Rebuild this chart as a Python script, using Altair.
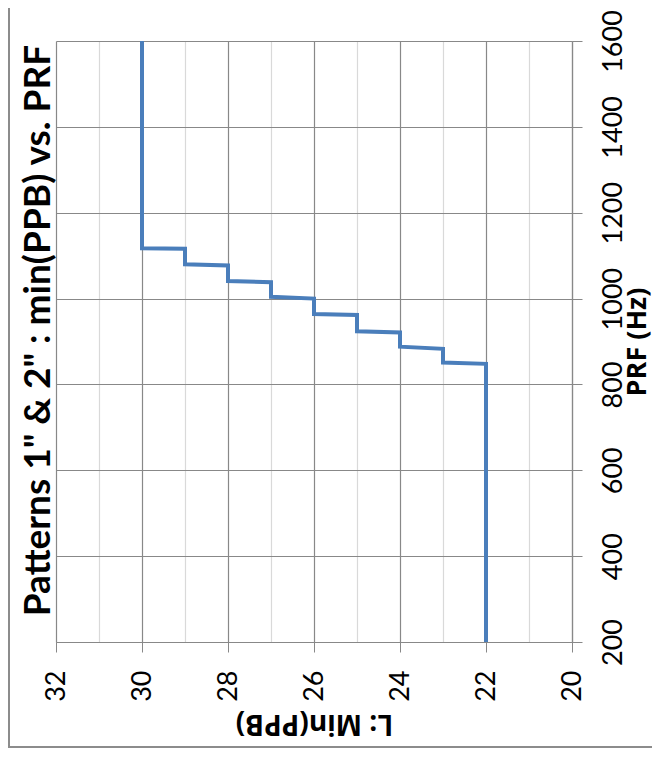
import altair as alt
import pandas as pd

# Step data read from the (rotated) reference picture
prf_hz = [200, 848, 851, 883, 888, 921, 924, 962, 964, 1000, 1004, 1038, 1041, 1077, 1080, 1116, 1117, 1600]
min_ppb = [22, 22, 23, 23, 24, 24, 25, 25, 26, 26, 27, 27, 28, 28, 29, 29, 30, 30]
ppb_ticks = list(range(20, 33))
prf_ticks = list(range(200, 1601, 200))
chart_title = 'Patterns 1" & 2" : min(PPB) vs. PRF'
x_title = "L: Min(PPB)"
y_title = "PRF (Hz)"

df = pd.DataFrame({"PRF": prf_hz, "PPB": min_ppb})

MAJOR = "#888888"
MINOR = "#d9d9d9"
FONT = "Lato"
TFONT = "Open Sans"
EVEN = "datum.value % 2 === 0"

line = alt.Chart(df).mark_line(color="#4a7ebb", strokeWidth=4).encode(
    x=alt.X(
        "PPB:Q",
        scale=alt.Scale(domain=[20, 32], reverse=True, nice=False, zero=False),
        axis=alt.Axis(
            orient="bottom", values=ppb_ticks, title=x_title, format="d",
            labelExpr=EVEN + " ? datum.label : ''",
            labelAngle=270, labelAlign="right", labelBaseline="middle",
            labelFont=FONT, labelFontSize=27, labelColor="black",
            labelPadding=18, labelOverlap=False, labelFlush=False,
            tickSize=10,
            tickColor={"condition": {"test": EVEN, "value": MAJOR}, "value": "transparent"},
            grid=True,
            gridColor={"condition": {"test": EVEN, "value": MAJOR}, "value": MINOR},
            gridWidth=1.2,
            domainColor=MAJOR, domainWidth=1.2,
            titleFont=TFONT, titleFontSize=28, titleFontWeight="bold", titleColor="black",
            titleAngle=180, titleBaseline="bottom", titlePadding=7,
        ),
    ),
    y=alt.Y(
        "PRF:Q",
        scale=alt.Scale(domain=[200, 1600], nice=False, zero=False),
        axis=alt.Axis(
            orient="right", values=prf_ticks, title=y_title, format="d",
            labelAngle=270, labelAlign="center", labelBaseline="top",
            labelFont=FONT, labelFontSize=27, labelColor="black",
            labelPadding=18, labelOverlap=False, labelFlush=False,
            tickSize=10, tickColor=MAJOR,
            grid=True, gridColor=MAJOR, gridWidth=1.2,
            domainColor=MAJOR, domainWidth=1.2,
            titleFont=TFONT, titleFontSize=27, titleFontWeight="bold", titleColor="black",
            titleAngle=270, titleBaseline="top", titlePadding=-2,
        ),
    ),
    order="PRF:Q",
)

frame_df = pd.DataFrame({"k": [0]})
left_border = alt.Chart(frame_df).mark_rule(color="#8c8c8c", strokeWidth=2).encode(
    x=alt.value(-47), y=alt.value(-33), y2=alt.value(706)
)
bottom_border = alt.Chart(frame_df).mark_rule(color="#8c8c8c", strokeWidth=2).encode(
    x=alt.value(-48), x2=alt.value(596), y=alt.value(706)
)

chart = alt.layer(line, left_border, bottom_border).properties(
    width=516,
    height=601,
    title=alt.TitleParams(
        chart_title, orient="left", anchor="middle", frame="group", angle=270,
        baseline="bottom",
        font=FONT, fontSize=37, fontWeight="bold", color="black", offset=-88, dx=11,
    ),
    autosize=alt.AutoSizeParams(type="none"),
    padding={"left": 48, "top": 33, "right": 80, "bottom": 114},
).configure_view(stroke=None)

chart.save("out.html", embed_options={"renderer": "svg", "actions": False})
